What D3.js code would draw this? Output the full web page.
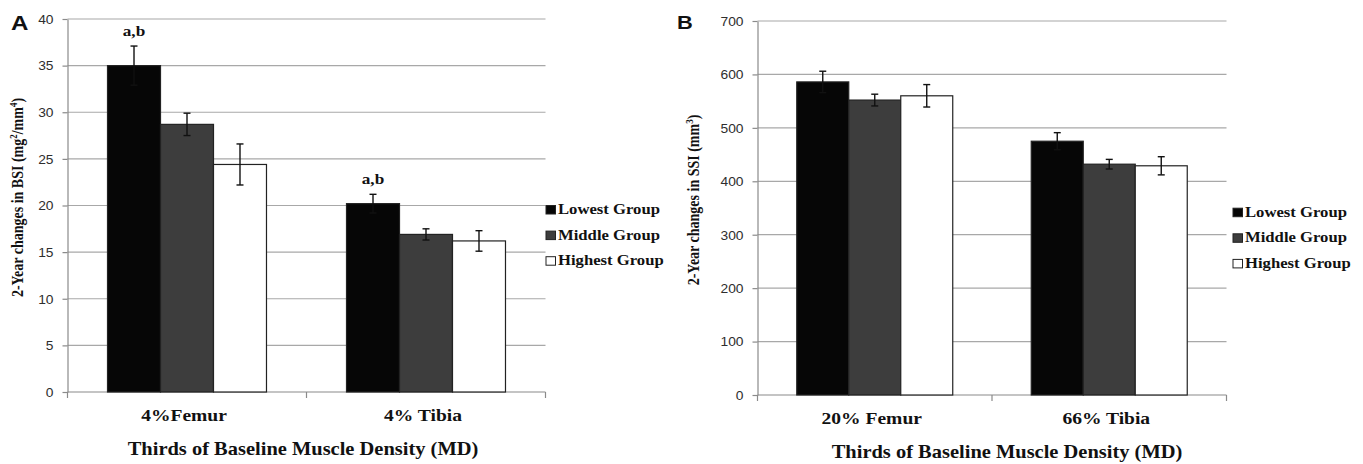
<!DOCTYPE html>
<html>
<head>
<meta charset="utf-8">
<script src="https://cdn.jsdelivr.net/npm/d3@7"></script>
<style>
  body { margin: 0; background: #fff; }
  svg { display: block; }
</style>
</head>
<body>
<svg width="1363" height="464"></svg>
<script>
// groups shared by both panels
var groups = ["Lowest Group", "Middle Group", "Highest Group"];
var colors = ["#060606", "#3d3d3d", "#ffffff"];

// panel A - BSI
var catsA = ["4%Femur", "4% Tibia"];
var meanA = [[35.0, 28.7, 24.4], [20.2, 16.9, 16.2]];
var errA = [[2.1, 1.2, 2.2], [1.0, 0.6, 1.1]];
var notesA = ["a,b", "a,b"];
var ticksA = [0, 5, 10, 15, 20, 25, 30, 35, 40];

// panel B - SSI
var catsB = ["20% Femur", "66% Tibia"];
var meanB = [[586, 552, 560], [475, 432, 429]];
var errB = [[20, 11, 21], [16, 9, 17]];
var notesB = ["", ""];
var ticksB = [0, 100, 200, 300, 400, 500, 600, 700];

var svg = d3.select("svg");
var serif = "'Liberation Serif', 'Times New Roman', serif";
var sans = "'Liberation Sans', Arial, sans-serif";
var SX = 1.15; // the source picture is a bit wide

function label(sel, x, y, str, size, anchor) {
  return sel.append("text")
      .attr("transform", "translate(" + x + "," + y + ") scale(" + SX + ",1)")
      .attr("font-family", serif)
      .attr("font-weight", "bold")
      .attr("font-size", size)
      .attr("text-anchor", anchor || "middle")
      .attr("fill", "#111")
      .text(str);
}

function panel(p) {
  var g = svg.append("g").attr("transform", "translate(" + p.left + "," + p.top + ")");

  var x0 = d3.scaleBand().domain(p.cats).range([0, p.width]);
  var x1 = d3.scaleBand().domain(groups).range([0, x0.bandwidth()]).paddingOuter(0.755);
  var y = d3.scaleLinear().domain([0, p.ticks[p.ticks.length - 1]]).range([p.height, 0]);
  var z = d3.scaleOrdinal().domain(groups).range(colors);

  // gridlines
  g.append("g").selectAll("line")
    .data(p.ticks.slice(1))
    .enter().append("line")
      .attr("x1", 0).attr("x2", p.width)
      .attr("y1", function(d) { return y(d); })
      .attr("y2", function(d) { return y(d); })
      .attr("stroke", "#a8a8a8").attr("stroke-width", 1.2);

  // y axis
  var ya = g.append("g")
      .call(d3.axisLeft(y).tickValues(p.ticks).tickSize(5).tickSizeOuter(0));
  ya.select(".domain").attr("stroke", "#8a8a8a").attr("stroke-width", 1.2);
  ya.selectAll(".tick line").attr("stroke", "#8a8a8a").attr("stroke-width", 1.2);
  ya.selectAll(".tick text")
      .attr("x", -14 / SX)
      .attr("dy", "0.36em")
      .attr("transform", "scale(" + SX + ",1)")
      .attr("font-family", sans)
      .attr("font-size", 12)
      .attr("fill", "#2e2e2e");

  // x axis line and category ticks
  g.append("line")
      .attr("x1", 0).attr("x2", p.width)
      .attr("y1", p.height).attr("y2", p.height)
      .attr("stroke", "#8a8a8a").attr("stroke-width", 1.2);
  g.append("g").selectAll("line")
    .data([0, x0.step(), p.width])
    .enter().append("line")
      .attr("x1", function(d) { return d; }).attr("x2", function(d) { return d; })
      .attr("y1", p.height).attr("y2", p.height + 6)
      .attr("stroke", "#8a8a8a").attr("stroke-width", 1.2);

  // bars
  var cat = g.append("g").selectAll("g")
    .data(p.cats)
    .enter().append("g")
      .attr("transform", function(d) { return "translate(" + x0(d) + ",0)"; });

  cat.selectAll("rect")
    .data(function(d, i) { return groups.map(function(k, j) { return {key: k, value: p.means[i][j]}; }); })
    .enter().append("rect")
      .attr("x", function(d) { return x1(d.key); })
      .attr("y", function(d) { return y(d.value); })
      .attr("width", x1.bandwidth())
      .attr("height", function(d) { return p.height - y(d.value); })
      .attr("fill", function(d) { return z(d.key); })
      .attr("stroke", "#222")
      .attr("stroke-width", 1.2);

  // error bars
  var eb = cat.selectAll(".err")
    .data(function(d, i) { return groups.map(function(k, j) { return {key: k, m: p.means[i][j], e: p.errs[i][j]}; }); })
    .enter().append("g")
      .attr("class", "err")
      .attr("transform", function(d) { return "translate(" + (x1(d.key) + x1.bandwidth() / 2) + ",0)"; });
  eb.append("line")
      .attr("y1", function(d) { return y(d.m - d.e); })
      .attr("y2", function(d) { return y(d.m + d.e); });
  eb.append("line")
      .attr("x1", -3.5).attr("x2", 3.5)
      .attr("y1", function(d) { return y(d.m + d.e); })
      .attr("y2", function(d) { return y(d.m + d.e); });
  eb.append("line")
      .attr("x1", -3.5).attr("x2", 3.5)
      .attr("y1", function(d) { return y(d.m - d.e); })
      .attr("y2", function(d) { return y(d.m - d.e); });
  eb.selectAll("line").attr("stroke", "#111").attr("stroke-width", 1.4);

  // significance notes over the lowest group
  p.cats.forEach(function(c, i) {
    if (!p.notes[i]) return;
    var top = y(p.means[i][0] + p.errs[i][0]);
    label(g, x0(c) + x1(groups[0]) + x1.bandwidth() / 2, top - 10.5, p.notes[i], 15);
  });

  // category labels
  p.cats.forEach(function(c) {
    label(g, x0(c) + x0.bandwidth() / 2 - 3, p.height + 28.5, c, 17);
  });

  // x title
  label(svg, p.xTitleX, p.xTitleY, "Thirds of Baseline Muscle Density (MD)", 17.8);

  // y title
  var yt = svg.append("text")
      .attr("transform", "translate(" + p.yTitleX + "," + (p.top + p.height / 2 - 8) + ") rotate(-90) scale(1," + SX + ")")
      .attr("font-family", serif)
      .attr("font-weight", "bold")
      .attr("font-size", 14)
      .attr("text-anchor", "middle")
      .attr("fill", "#111");
  p.yTitle.forEach(function(part) {
    var t = yt.append("tspan").text(part[0]);
    if (part[1] === "sup") t.attr("font-size", 9).attr("dy", -5);
    else if (part[1] === "after") t.attr("dy", 5);
  });

  // panel letter
  svg.append("text")
      .attr("transform", "translate(" + p.letterX + "," + p.letterY + ") scale(" + SX + ",1)")
      .attr("font-family", sans)
      .attr("font-weight", "bold")
      .attr("font-size", p.letterSize)
      .attr("fill", "#111")
      .text(p.letter);

  // legend
  var legend = svg.append("g")
      .attr("transform", "translate(" + p.legendX + "," + p.legendY + ")")
    .selectAll("g")
    .data(groups)
    .enter().append("g")
      .attr("transform", function(d, i) { return "translate(0," + i * 25.6 + ")"; });
  legend.append("rect")
      .attr("x", 0.5).attr("y", -8.5)
      .attr("width", 9.5).attr("height", 8.5)
      .attr("fill", z)
      .attr("stroke", "#222").attr("stroke-width", 1);
  legend.each(function(d) {
    label(d3.select(this), 12.5, 0, d, 14.5, "start");
  });
}

panel({
  letter: "A", letterX: 11, letterY: 30, letterSize: 21,
  left: 67.5, top: 19, width: 478, height: 373,
  cats: catsA, means: meanA, errs: errA, notes: notesA, ticks: ticksA,
  xTitleX: 303, xTitleY: 455,
  yTitleX: 23,
  yTitle: [["2-Year changes in BSI (mg"], ["2", "sup"], ["/mm", "after"], ["4", "sup"], [")", "after"]],
  legendX: 545.5, legendY: 214
});

panel({
  letter: "B", letterX: 677, letterY: 28.5, letterSize: 19,
  left: 757.5, top: 21, width: 469, height: 374,
  cats: catsB, means: meanB, errs: errB, notes: notesB, ticks: ticksB,
  xTitleX: 1007, xTitleY: 458,
  yTitleX: 699,
  yTitle: [["2-Year changes in SSI (mm"], ["3", "sup"], [")", "after"]],
  legendX: 1232.5, legendY: 216.7
});
</script>
</body>
</html>
